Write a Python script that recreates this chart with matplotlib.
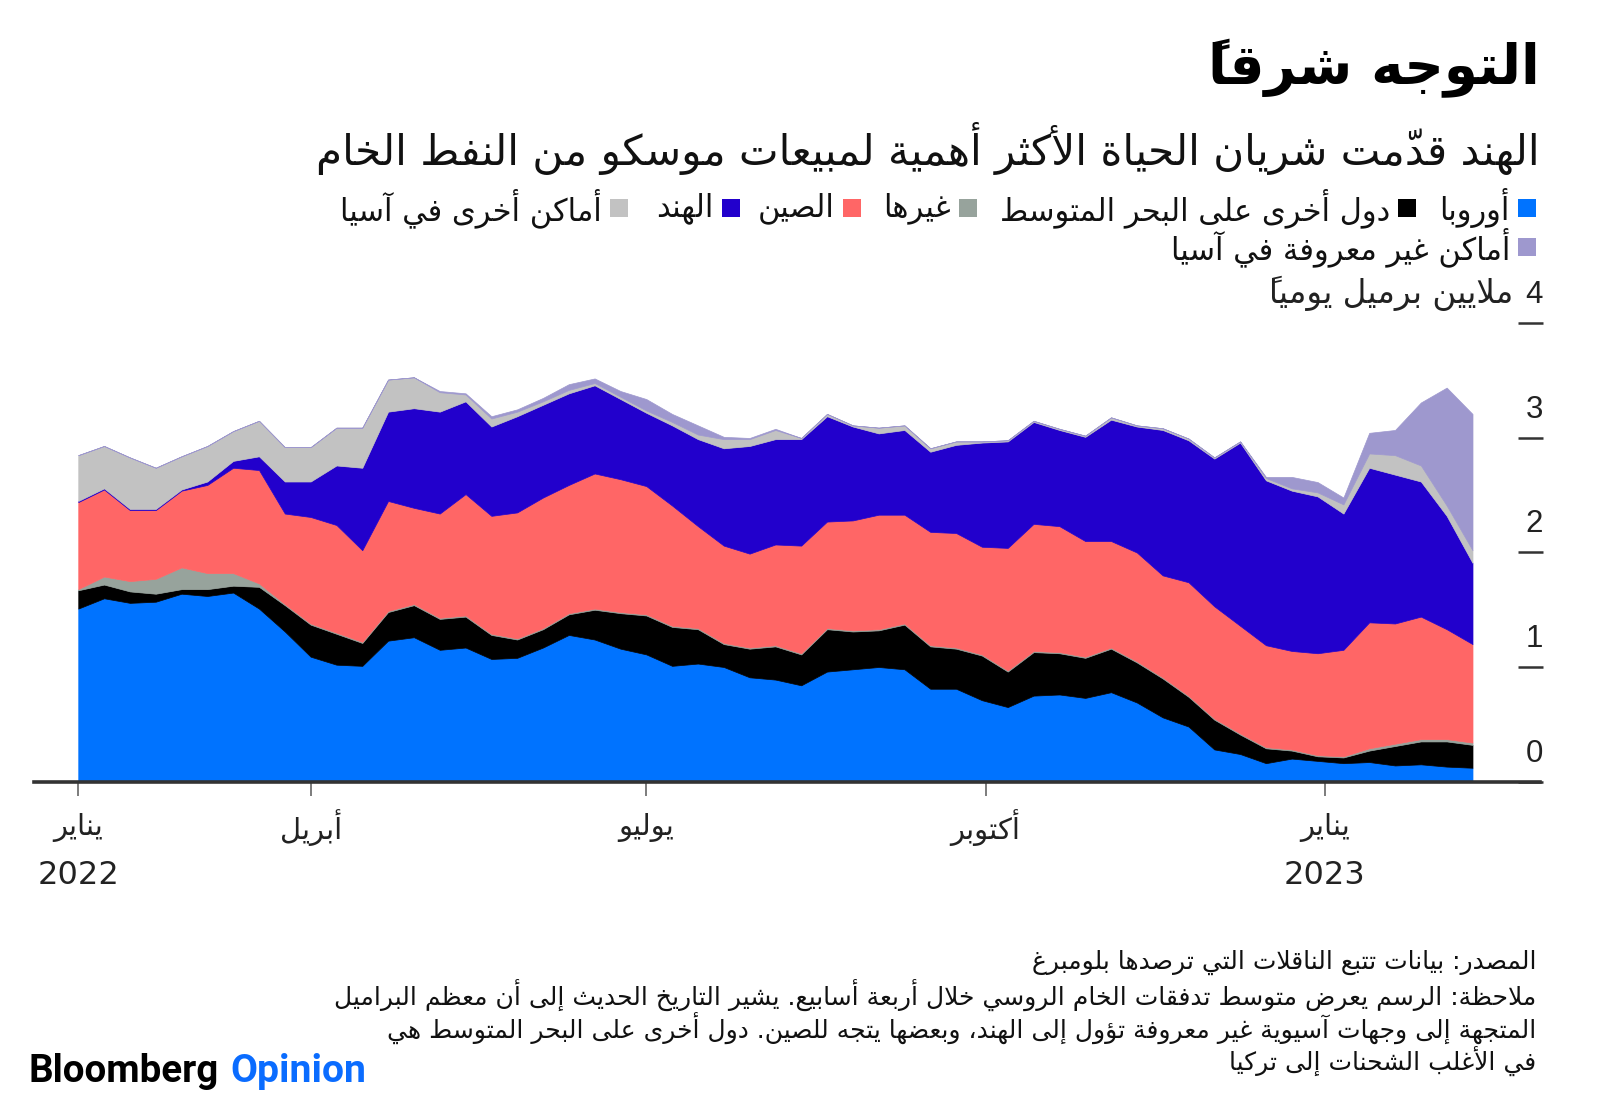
import numpy as np
import pandas as pd
import matplotlib
matplotlib.use("Agg")
import matplotlib.pyplot as plt
import matplotlib.dates as mdates
from matplotlib.patches import Rectangle
from matplotlib.transforms import blended_transform_factory, offset_copy

# ---------------- data (million barrels per day, 4-week average) ----------------
start_date = "2022-01-28"
n_weeks = 55
europe = [1.51, 1.60, 1.56, 1.57, 1.64, 1.62, 1.65, 1.51, 1.31, 1.09,
          1.02, 1.01, 1.23, 1.26, 1.15, 1.17, 1.07, 1.08, 1.17, 1.28,
          1.24, 1.16, 1.11, 1.01, 1.03, 1.00, 0.91, 0.89, 0.84, 0.96,
          0.98, 1.00, 0.98, 0.81, 0.81, 0.71, 0.65, 0.75, 0.76, 0.73,
          0.78, 0.69, 0.56, 0.48, 0.28, 0.24, 0.16, 0.20, 0.18, 0.16,
          0.17, 0.14, 0.15, 0.13, 0.12]
other_med = [0.16, 0.12, 0.10, 0.07, 0.04, 0.06, 0.06, 0.19, 0.23, 0.28,
             0.27, 0.20, 0.25, 0.28, 0.27, 0.27, 0.21, 0.16, 0.16, 0.18,
             0.26, 0.31, 0.34, 0.34, 0.30, 0.20, 0.25, 0.29, 0.27, 0.37,
             0.33, 0.32, 0.39, 0.37, 0.35, 0.39, 0.31, 0.38, 0.36, 0.35,
             0.38, 0.35, 0.34, 0.26, 0.26, 0.17, 0.13, 0.07, 0.04, 0.05,
             0.10, 0.17, 0.20, 0.22, 0.20]
others = [0.01, 0.07, 0.09, 0.13, 0.19, 0.14, 0.11, 0.03, 0.01, 0.01,
          0.01, 0.01, 0.01, 0.01, 0.01, 0.01, 0.01, 0.01, 0.01, 0.01,
          0.01, 0.01, 0.01, 0.01, 0.01, 0.01, 0.01, 0.01, 0.01, 0.01,
          0.01, 0.01, 0.01, 0.01, 0.01, 0.01, 0.01, 0.01, 0.01, 0.01,
          0.01, 0.01, 0.01, 0.01, 0.01, 0.01, 0.01, 0.01, 0.01, 0.01,
          0.02, 0.02, 0.02, 0.02, 0.02]
china = [0.76, 0.76, 0.62, 0.60, 0.67, 0.77, 0.92, 0.99, 0.79, 0.93,
         0.94, 0.80, 0.96, 0.84, 0.91, 1.06, 1.03, 1.10, 1.14, 1.12,
         1.18, 1.16, 1.12, 1.05, 0.89, 0.85, 0.82, 0.88, 0.94, 0.93,
         0.96, 1.00, 0.95, 0.99, 1.00, 0.94, 1.07, 1.11, 1.10, 1.01,
         0.93, 0.95, 0.89, 0.99, 0.98, 0.94, 0.89, 0.86, 0.89, 0.93,
         1.10, 1.05, 1.07, 0.96, 0.86]
india = [0.01, 0.01, 0.01, 0.01, 0.01, 0.03, 0.06, 0.12, 0.28, 0.31,
         0.52, 0.72, 0.78, 0.87, 0.89, 0.81, 0.78, 0.84, 0.81, 0.80,
         0.77, 0.70, 0.64, 0.70, 0.76, 0.85, 0.94, 0.92, 0.93, 0.92,
         0.82, 0.71, 0.74, 0.70, 0.77, 0.91, 0.93, 0.89, 0.84, 0.91,
         1.06, 1.10, 1.27, 1.24, 1.29, 1.60, 1.44, 1.40, 1.37, 1.19,
         1.35, 1.30, 1.18, 0.99, 0.71]
other_asia = [0.40, 0.37, 0.45, 0.36, 0.29, 0.31, 0.26, 0.31, 0.30, 0.30,
              0.33, 0.35, 0.28, 0.27, 0.17, 0.06, 0.07, 0.04, 0.03, 0.03,
              0.02, 0.02, 0.02, 0.03, 0.04, 0.08, 0.06, 0.08, 0.01, 0.02,
              0.01, 0.05, 0.04, 0.03, 0.03, 0.01, 0.01, 0.01, 0.01, 0.01,
              0.02, 0.01, 0.015, 0.015, 0.01, 0.01, 0.02, 0.02, 0.035, 0.08,
              0.125, 0.17, 0.14, 0.09, 0.11]
unknown_asia = [0.0, 0.0, 0.0, 0.0, 0.0, 0.0, 0.0, 0.0, 0.0, 0.0,
                0.0, 0.0, 0.0, 0.0, 0.01, 0.01, 0.02, 0.02, 0.03, 0.05,
                0.04, 0.05, 0.10, 0.07, 0.08, 0.02, 0.01, 0.01, 0.0, 0.0,
                0.0, 0.0, 0.0, 0.0, 0.0, 0.0, 0.0, 0.0, 0.0, 0.0,
                0.0, 0.0, 0.0, 0.0, 0.0, 0.0, 0.01, 0.10, 0.09, 0.06,
                0.18, 0.22, 0.55, 1.03, 1.19]

series_labels = ["أوروبا", "دول أخرى على البحر المتوسط", "غيرها", "الصين",
                 "الهند", "أماكن أخرى في آسيا", "أماكن غير معروفة في آسيا"]
y_ticks = [0, 1, 2, 3, 4]
x_tick_dates = ["2022-01-28", "2022-04-01", "2022-07-01", "2022-10-01", "2023-01-01"]
x_tick_months = ["يناير", "أبريل", "يوليو", "أكتوبر", "يناير"]
x_tick_years = ["2022", "", "", "", "2023"]

title = "التوجه شرقاً"
subtitle = "الهند قدّمت شريان الحياة الأكثر أهمية لمبيعات موسكو من النفط الخام"
unit_label = "ملايين برميل يومياً"
notes = ["المصدر: بيانات تتبع الناقلات التي ترصدها بلومبرغ",
         "ملاحظة: الرسم يعرض متوسط تدفقات الخام الروسي خلال أربعة أسابيع. يشير التاريخ الحديث إلى أن معظم البراميل",
         "المتجهة إلى وجهات آسيوية غير معروفة تؤول إلى الهند، وبعضها يتجه للصين. دول أخرى على البحر المتوسط هي",
         "في الأغلب الشحنات إلى تركيا"]

colors = ["#0073FF", "#000000", "#97A39C", "#FF6666", "#2200CC", "#C2C2C2", "#9E98CE"]

# ---------------- minimal Arabic shaping + visual ordering ----------------
ARAB = {
    '\u0621': (0xFE80, 'U'), '\u0622': (0xFE81, 'R'), '\u0623': (0xFE83, 'R'),
    '\u0624': (0xFE85, 'R'), '\u0625': (0xFE87, 'R'), '\u0626': (0xFE89, 'D'),
    '\u0627': (0xFE8D, 'R'), '\u0628': (0xFE8F, 'D'), '\u0629': (0xFE93, 'R'),
    '\u062A': (0xFE95, 'D'), '\u062B': (0xFE99, 'D'), '\u062C': (0xFE9D, 'D'),
    '\u062D': (0xFEA1, 'D'), '\u062E': (0xFEA5, 'D'), '\u062F': (0xFEA9, 'R'),
    '\u0630': (0xFEAB, 'R'), '\u0631': (0xFEAD, 'R'), '\u0632': (0xFEAF, 'R'),
    '\u0633': (0xFEB1, 'D'), '\u0634': (0xFEB5, 'D'), '\u0635': (0xFEB9, 'D'),
    '\u0636': (0xFEBD, 'D'), '\u0637': (0xFEC1, 'D'), '\u0638': (0xFEC5, 'D'),
    '\u0639': (0xFEC9, 'D'), '\u063A': (0xFECD, 'D'), '\u0641': (0xFED1, 'D'),
    '\u0642': (0xFED5, 'D'), '\u0643': (0xFED9, 'D'), '\u0644': (0xFEDD, 'D'),
    '\u0645': (0xFEE1, 'D'), '\u0646': (0xFEE5, 'D'), '\u0647': (0xFEE9, 'D'),
    '\u0648': (0xFEED, 'R'), '\u0649': (0xFEEF, 'R'), '\u064A': (0xFEF1, 'D'),
}
LAMALEF = {'\u0622': 0xFEF5, '\u0623': 0xFEF7, '\u0625': 0xFEF9, '\u0627': 0xFEFB}
MARKS = set(chr(c) for c in range(0x064B, 0x0653)) | {'\u0670'}


def _jtype(b):
    if isinstance(b, tuple):
        return 'R'
    if b in ARAB:
        return ARAB[b][1]
    if b == '\u0640':
        return 'D'
    return 'U'


def ar(s):
    toks = []
    for ch in s:
        if ch in MARKS and toks:
            toks[-1][1] += ch
        else:
            toks.append([ch, ''])
    merged = []
    i = 0
    while i < len(toks):
        b, m = toks[i]
        if b == '\u0644' and i + 1 < len(toks) and toks[i + 1][0] in LAMALEF:
            merged.append([('LA', toks[i + 1][0]), m + toks[i + 1][1]])
            i += 2
        else:
            merged.append([b, m])
            i += 1
    n = len(merged)
    clusters = []
    for i, (b, m) in enumerate(merged):
        t = _jtype(b)
        prv = _jtype(merged[i - 1][0]) if i > 0 else 'U'
        nxt = _jtype(merged[i + 1][0]) if i < n - 1 else 'U'
        jp = t in 'DR' and prv == 'D'
        jn = t == 'D' and nxt in 'DR'
        if isinstance(b, tuple):
            g = chr(LAMALEF[b[1]] + (1 if jp else 0))
        elif b in ARAB:
            base, tt = ARAB[b]
            if tt == 'U':
                g = chr(base)
            elif tt == 'R':
                g = chr(base + (1 if jp else 0))
            else:
                g = chr(base + {(False, False): 0, (True, False): 1,
                                (False, True): 2, (True, True): 3}[(jp, jn)])
        else:
            g = b
        clusters.append((g, m))
    groups = []
    for g, m in clusters:
        ltr = g.isascii() and g.isalnum()
        if ltr and groups and groups[-1][0]:
            groups[-1][1].append(g + m)
        else:
            # zero-width marks are drawn just before their base in visual order
            groups.append([ltr, [m + g]])
    out = []
    for ltr, cl in reversed(groups):
        out.extend(cl)
    return ''.join(out)


# ---------------- figure ----------------
W, H = 1600, 1104
fig = plt.figure(figsize=(16, 11.04), dpi=100)
fig.patch.set_facecolor("white")
AR_FONT = ["DejaVu Sans"]


def fx(px):
    return px / W


def fy(py):
    return 1 - py / H


renderer = fig.canvas.get_renderer()


def fit(t, target, cap):
    w = t.get_window_extent(renderer).width
    t.set_fontsize(min(cap, t.get_fontsize() * target / w))


ax = fig.add_axes([fx(34), fy(781.5), fx(1540 - 34), (781.5 - 300) / H])
dates = pd.date_range(start_date, periods=n_weeks, freq="7D")
x = mdates.date2num(dates)

polys = ax.stackplot(x, europe, other_med, others, china, india, other_asia,
                     unknown_asia, colors=colors)
for p, c in zip(polys, colors):
    p.set_edgecolor(c)
    p.set_linewidth(0.5)

ax.set_xlim(x[0] - 12.0, x[-1] + 18.3)
ax.set_ylim(0, 4.205)
for s in ["top", "left", "right"]:
    ax.spines[s].set_visible(False)
ax.spines["bottom"].set_color("#333333")
ax.spines["bottom"].set_linewidth(2.6)
ax.spines["bottom"].set_zorder(5)
xt = mdates.date2num(pd.to_datetime(x_tick_dates))
ax.set_xticks(xt)
ax.set_yticks([])
ax.tick_params(axis="x", length=10, width=1.2, color="#666666", labelbottom=False)
ax.set_facecolor("none")

# x labels
tx = blended_transform_factory(ax.transData, fig.transFigure)
for xv, mname, yr in zip(xt, x_tick_months, x_tick_years):
    ax.text(xv, fy(828), ar(mname), transform=tx, ha="center", va="center",
            fontsize=21, family=AR_FONT, color="#222222")
    if yr:
        ax.text(xv, fy(875), yr, transform=tx, ha="center", va="center",
                fontsize=23, family=AR_FONT, color="#222222")

# y ticks (short dashes on the right) and labels
ty = blended_transform_factory(fig.transFigure, ax.transData)
ty_lab = offset_copy(ty, fig=fig, x=0, y=20, units="dots")
for v in y_ticks:
    ax.plot([fx(1518), fx(1543)], [v, v], transform=ty, color="#333333",
            lw=1.8, clip_on=False, solid_capstyle="butt")
    ax.text(fx(1543), v, str(v), transform=ty_lab, ha="right", va="baseline",
            fontsize=22.5, family="Liberation Sans", color="#222222")
t_unit = ax.text(fx(1513), y_ticks[-1], ar(unit_label), transform=ty_lab, ha="right",
                 va="baseline", fontsize=21, family=AR_FONT, color="#222222")
fit(t_unit, 243, 24)

# title / subtitle
t_title = fig.text(fx(1540), fy(68), ar(title), ha="right", va="center",
                   fontsize=40, weight="bold", family=AR_FONT, color="#000000")
fit(t_title, 332, 46)
t_sub = fig.text(fx(1540), fy(148), ar(subtitle), ha="right", va="center",
                 fontsize=28, family=AR_FONT, color="#111111")
fit(t_sub, 1221, 31)

# legend
sq = 18
row1_sq_left = [1518, 1398, 959, 843, 722, 610]
row1_targets = [73, 400, 69, 79, 66, 276]
row_y = [208, 247]
leg_texts = []
for i in range(6):
    fig.add_artist(Rectangle((fx(row1_sq_left[i]), fy(row_y[0] + sq / 2)), sq / W, sq / H,
                             transform=fig.transFigure, facecolor=colors[i], edgecolor="none"))
    t = fig.text(fx(row1_sq_left[i] - 8), fy(row_y[0]), ar(series_labels[i]), ha="right",
                 va="center", fontsize=20, family=AR_FONT, color="#111111")
    leg_texts.append(t)
fig.add_artist(Rectangle((fx(1518), fy(row_y[1] + sq / 2)), sq / W, sq / H,
                         transform=fig.transFigure, facecolor=colors[6], edgecolor="none"))
t7 = fig.text(fx(1510), fy(row_y[1]), ar(series_labels[6]), ha="right", va="center",
              fontsize=20, family=AR_FONT, color="#111111")
leg_texts.append(t7)
meas = sum(t.get_window_extent(renderer).width for t in leg_texts[:6])
leg_size = min(22, 20 * sum(row1_targets) / meas)
for t in leg_texts:
    t.set_fontsize(leg_size)

# notes
note_y = [962, 995, 1028, 1061]
note_texts = []
for yv, line in zip(note_y, notes):
    note_texts.append(fig.text(fx(1536), fy(yv), ar(line), ha="right", va="center",
                               fontsize=18, family=AR_FONT, color="#111111"))
w2 = note_texts[1].get_window_extent(renderer).width
ns = min(19, 18 * 1202 / w2)
for t in note_texts:
    t.set_fontsize(ns)

# logo
logo_y = 1071
tb = fig.text(fx(29), fy(logo_y), "Bloomberg", ha="left", va="center", fontsize=25,
              weight="bold", family=["Roboto", "DejaVu Sans"], color="#000000")
fit(tb, 190, 30)
wb = tb.get_window_extent(renderer).width
to = fig.text(fx(29 + wb + 11), fy(logo_y), "Opinion", ha="left", va="center",
              fontsize=tb.get_fontsize(), weight="bold", family=["Roboto", "DejaVu Sans"],
              color="#0A6CFF")
fit(to, 136, 32)

fig.savefig("out.png", dpi=100, facecolor="white")
